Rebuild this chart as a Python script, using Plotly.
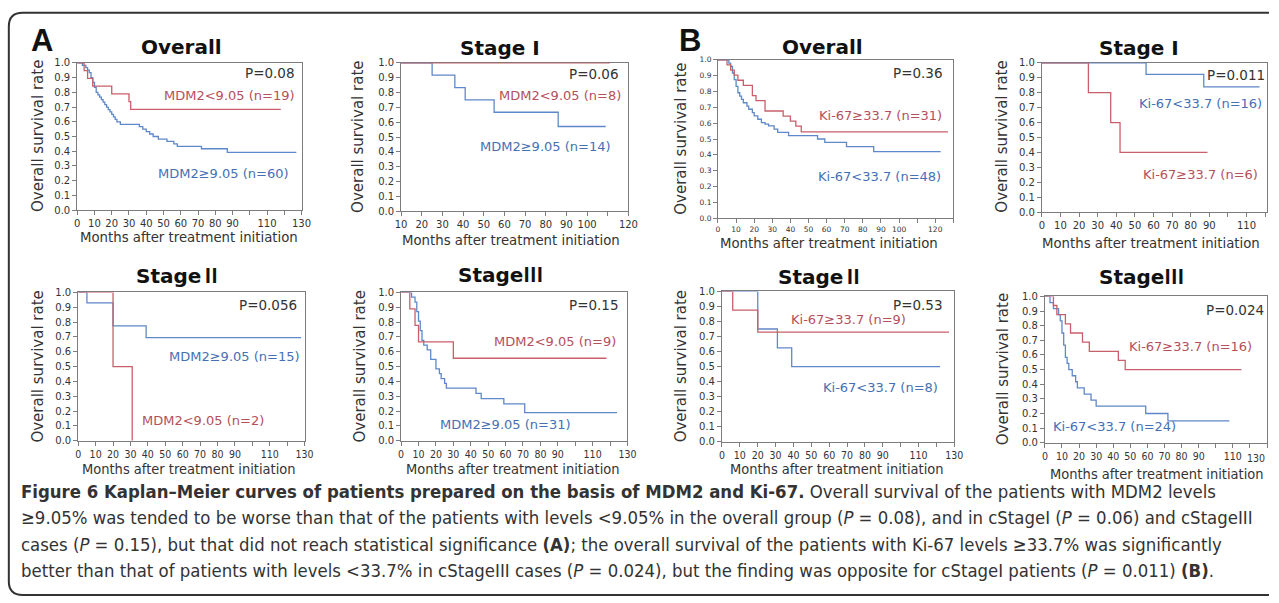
import plotly.graph_objects as go

W, H = 1279, 603

# ---------------- data (months, survival rate) ----------------
# Panel A: MDM2
a_all_low_t = [0, 4, 6, 9, 20, 30, 31, 118]
a_all_low_s = [1.0, 0.947, 0.895, 0.842, 0.789, 0.737, 0.684, 0.684]
a_all_high_t = [0, 3, 5, 6, 7, 8, 9, 10, 11, 12, 13, 14, 15, 16, 17, 18, 19, 20, 21, 22,
                23, 25, 36, 38, 40, 42, 44, 47, 52, 56, 58, 72, 87, 127]
a_all_high_s = [1.0, 0.983, 0.967, 0.95, 0.933, 0.9, 0.867, 0.833, 0.8, 0.783, 0.767, 0.75,
                0.733, 0.717, 0.7, 0.683, 0.667, 0.65, 0.633, 0.617, 0.6, 0.583, 0.567, 0.55,
                0.533, 0.517, 0.5, 0.483, 0.467, 0.45, 0.433, 0.417, 0.393, 0.393]

a_st1_low_t = [0, 111]
a_st1_low_s = [1.0, 1.0]
a_st1_high_t = [0, 25, 36, 41, 55, 86, 109]
a_st1_high_s = [1.0, 0.917, 0.833, 0.75, 0.667, 0.571, 0.571]

a_st2_low_t = [0, 20, 31]
a_st2_low_s = [1.0, 0.5, 0.0]
a_st2_high_t = [0, 5, 20, 39, 128]
a_st2_high_s = [1.0, 0.93, 0.775, 0.695, 0.695]

a_st3_low_t = [0, 5, 8, 10, 30, 118]
a_st3_low_s = [1.0, 0.889, 0.778, 0.667, 0.556, 0.556]
a_st3_high_t = [0, 6, 8, 9, 10, 11, 12, 13, 15, 17, 20, 22, 23, 25, 26, 43, 46, 59, 71, 124]
a_st3_high_s = [1.0, 0.968, 0.935, 0.871, 0.806, 0.742, 0.677, 0.645, 0.613, 0.548, 0.484,
                0.452, 0.419, 0.387, 0.355, 0.32, 0.284, 0.248, 0.19, 0.19]

# Panel B: Ki-67
b_all_high_t = [0, 5, 7, 9, 11, 14, 19, 21, 26, 36, 40, 43, 46, 127]
b_all_high_s = [1.0, 0.968, 0.935, 0.903, 0.871, 0.839, 0.774, 0.742, 0.677, 0.645, 0.613,
                0.581, 0.545, 0.545]
b_all_low_t = [0, 6, 7, 8, 9, 10, 11, 12, 13, 14, 16, 17, 19, 20, 22, 24, 26, 28, 31, 33,
               39, 55, 59, 71, 86, 123]
b_all_low_s = [1.0, 0.979, 0.958, 0.917, 0.875, 0.833, 0.792, 0.771, 0.75, 0.729, 0.708,
               0.688, 0.667, 0.646, 0.625, 0.604, 0.594, 0.583, 0.563, 0.542, 0.521, 0.5,
               0.479, 0.452, 0.42, 0.42]

b_st1_low_t = [0, 56, 87, 117]
b_st1_low_s = [1.0, 0.923, 0.839, 0.839]
b_st1_high_t = [0, 25, 37, 42, 89]
b_st1_high_s = [1.0, 0.8, 0.6, 0.4, 0.4]

b_st2_high_t = [0, 6, 20, 127]
b_st2_high_s = [1.0, 0.875, 0.729, 0.729]
b_st2_low_t = [0, 20, 31, 39, 122]
b_st2_low_s = [1.0, 0.75, 0.625, 0.5, 0.5]

b_st3_high_t = [0, 5, 7, 12, 15, 22, 26, 43, 47, 115]
b_st3_high_s = [1.0, 0.938, 0.875, 0.813, 0.75, 0.688, 0.625, 0.563, 0.5, 0.5]
b_st3_low_t = [0, 3, 5, 8, 9, 10, 11, 12, 13, 14, 16, 18, 19, 23, 27, 30, 59, 72, 108]
b_st3_low_s = [1.0, 0.958, 0.917, 0.875, 0.833, 0.75, 0.667, 0.583, 0.542, 0.5, 0.458,
               0.417, 0.375, 0.333, 0.292, 0.25, 0.2, 0.15, 0.15]

# tick labels
y_tick_vals = [0.0, 0.1, 0.2, 0.3, 0.4, 0.5, 0.6, 0.7, 0.8, 0.9, 1.0]
y_tick_text = ["0.0", "0.1", "0.2", "0.3", "0.4", "0.5", "0.6", "0.7", "0.8", "0.9", "1.0"]
x_ticks_130 = [0, 10, 20, 30, 40, 50, 60, 70, 80, 90, 100, 110, 120, 130]
x_text_130 = ["0", "10", "20", "30", "40", "50", "60", "70", "80", "90", "", "110", "", "130"]
x_text_b_st3 = ["0", "10", "20", "30", "40", "50", "60", "70", "80", "90", "", "110", "", ""]
x_text_b_all = ["0", "10", "20", "30", "40", "50", "60", "70", "80", "90", "100", "", "120", ""]
x_ticks_a_st1 = [10, 20, 30, 40, 50, 60, 70, 80, 90, 100, 110, 120]
x_text_a_st1 = ["10", "20", "30", "40", "50", "60", "70", "80", "90", "100", "", "120"]
x_ticks_b_st1 = [0, 10, 20, 30, 40, 50, 60, 70, 80, 90, 100, 110, 120]
x_text_b_st1 = ["0", "10", "20", "30", "40", "50", "60", "70", "80", "90", "", "110", ""]

# ---------------- styles ----------------
RED = "#c85f6a"
BLUE = "#5f88c8"
RED_TXT = "#b4505c"
BLUE_TXT = "#4670b4"
AXC = "#7c7c7c"
SANS = "DejaVu Sans, Verdana, sans-serif"
COND = "DejaVu Sans Condensed, Liberation Sans Narrow, Arial Narrow, sans-serif"
BOLD = "DejaVu Sans, Verdana, sans-serif"
CJK = "Noto Sans CJK JP"

# the photographed page appears inset/scaled; map reference pixels to page pixels
OX, SX, OY, SY = 6.2, 0.9817, 6.3, 0.9777
XMAX = W - 2


def PX(x):
    return (x - OX) / SX


def PY(y):
    return (y - OY) / SY


# panel: (red_t, red_s, blue_t, blue_s, box(l, r, top, bottom), xrange, xticks, xtext, xfont, xsize, ysize)
panels = [
    (a_all_low_t, a_all_low_s, a_all_high_t, a_all_high_s, (77, 300, 63, 210), [0, 130],
     x_ticks_130, x_text_130, SANS, 10, 10),
    (a_st1_low_t, a_st1_low_s, a_st1_high_t, a_st1_high_s, (399, 625, 63, 211), [10, 120],
     x_ticks_a_st1, x_text_a_st1, SANS, 10, 10),
    (b_all_high_t, b_all_high_s, b_all_low_t, b_all_low_s, (714, 948, 60, 218), [0, 130],
     x_ticks_130, x_text_b_all, SANS, 7.5, 7.5),
    (b_st1_high_t, b_st1_high_s, b_st1_low_t, b_st1_low_s, (1036, 1266, 63, 212), [0, 121],
     x_ticks_b_st1, x_text_b_st1, SANS, 10, 10),
    (a_st2_low_t, a_st2_low_s, a_st2_high_t, a_st2_high_s, (78, 303, 292, 440), [0, 130],
     x_ticks_130, x_text_130, COND, 10.5, 10),
    (a_st3_low_t, a_st3_low_s, a_st3_high_t, a_st3_high_s, (399, 624, 292, 440), [0, 130],
     x_ticks_130, x_text_130, COND, 10.5, 10),
    (b_st2_high_t, b_st2_high_s, b_st2_low_t, b_st2_low_s, (718, 949, 291, 441), [0, 130],
     x_ticks_130, x_text_130, COND, 10.5, 10),
    (b_st3_high_t, b_st3_high_s, b_st3_low_t, b_st3_low_s, (1039, 1264, 296, 442), [0, 130],
     x_ticks_130, x_text_b_st3, COND, 10.5, 10),
]

fig = go.Figure()
layout = dict(width=W, height=H, margin=dict(l=0, r=0, t=0, b=0, pad=0),
              paper_bgcolor="white", plot_bgcolor="white", showlegend=False)

for i, (rt, rs, bt, bs, box, xr, xt, xtt, xfam, xsz, ysz) in enumerate(panels, start=1):
    l, r, t, b = box
    pl, pr, pt, pb = PX(l), min(PX(r), XMAX), PY(t), PY(b)
    xa = "x" if i == 1 else f"x{i}"
    ya = "y" if i == 1 else f"y{i}"
    fig.add_trace(go.Scatter(x=bt, y=bs, mode="lines", xaxis=xa, yaxis=ya,
                             line=dict(shape="hv", color=BLUE, width=1.3), hoverinfo="skip"))
    fig.add_trace(go.Scatter(x=rt, y=rs, mode="lines", xaxis=xa, yaxis=ya,
                             line=dict(shape="hv", color=RED, width=1.3), hoverinfo="skip"))
    layout["xaxis" if i == 1 else f"xaxis{i}"] = dict(
        domain=[pl / W, pr / W], range=xr, anchor=ya, tickmode="array", tickvals=xt,
        ticktext=xtt, ticks="outside", ticklen=4, tickcolor=AXC, showline=True, mirror=True,
        linecolor=AXC, linewidth=1, showgrid=False, zeroline=False, layer="below traces",
        tickfont=dict(family=xfam, size=xsz, color="#333"), fixedrange=True)
    layout["yaxis" if i == 1 else f"yaxis{i}"] = dict(
        domain=[1 - pb / H, 1 - pt / H], range=[0, 1], anchor=xa, tickmode="array",
        tickvals=y_tick_vals, ticktext=y_tick_text, ticks="outside", ticklen=4, tickcolor=AXC,
        showline=True, mirror=True, linecolor=AXC, linewidth=1, showgrid=False, zeroline=False,
        layer="below traces", tickfont=dict(family=SANS, size=ysz, color="#333"), fixedrange=True)

ann = []


def txt(text, x, y, size, color="#222", family=SANS, xanchor="center", angle=0):
    ann.append(dict(text=text, x=PX(x) / W, y=1 - PY(y) / H, xref="paper", yref="paper",
                    xanchor=xanchor, yanchor="middle", showarrow=False, textangle=angle,
                    font=dict(size=size, color=color, family=family)))


# last tick label of the right-most lower panel (kept inside the page)
txt("130", 1260, 457, 10.5, "#333", COND, xanchor="right")

# panel letters and titles
txt("<b>A</b>", 42, 41, 31, "#111", "Liberation Sans, Arial, sans-serif")
txt("<b>B</b>", 686, 41, 31, "#111", "Liberation Sans, Arial, sans-serif")
titles = [("<b>Stage I</b>", 497, 48), ("<b>Stage I</b>", 1133, 48),
          ("<b>Overall</b>", 181, 47), ("<b>Overall</b>", 818, 47)]
for s, x, y in titles:
    txt(s, x, y, 20, "#111", BOLD)
roman = [("Ⅱ", 178, 274), ("Ⅲ", 498, 273), ("Ⅱ", 816, 275), ("Ⅲ", 1135, 275)]
for s, x, y in roman:
    txt(f"<b>Stage</b><span style=\"font-family:'{CJK}'\"><b>{s}</b></span>", x, y, 20, "#111", BOLD)

# axis titles
ytitle = "Overall survival rate"
for x, y in [(38, 136), (356, 137), (677, 139), (996, 137),
             (38, 366), (358, 366), (677, 366), (997, 369)]:
    txt(ytitle, x, y, 15, "#333", SANS, angle=-90)
xtitle = "Months after treatment initiation"
for x, y in [(188, 237), (508, 240), (824, 243), (1144, 243)]:
    txt(xtitle, x, y, 13.3, "#333", SANS)
for x, y in [(188, 468), (510, 468), (832, 468), (1150, 473)]:
    txt(xtitle, x, y, 14.5, "#333", COND)

# in-plot labels (right x, center y)
p_labels = [("P=0.08", 295, 73), ("P=0.06", 618, 74), ("P=0.36", 940, 73), ("P=0.011", 1260, 75),
            ("P=0.056", 297, 305), ("P=0.15", 618, 305), ("P=0.53", 940, 305),
            ("P=0.024", 1259, 310)]
for s, x, y in p_labels:
    txt(s, x, y, 13.5, "#333", SANS, xanchor="right")
labels = [
    ("MDM2&lt;9.05 (n=19)", 295, 96, RED_TXT), ("MDM2≥9.05 (n=60)", 290, 173, BLUE_TXT),
    ("MDM2&lt;9.05 (n=8)", 620, 96, RED_TXT), ("MDM2≥9.05 (n=14)", 610, 146, BLUE_TXT),
    ("Ki-67≥33.7 (n=31)", 939, 116, RED_TXT), ("Ki-67&lt;33.7 (n=48)", 938, 176, BLUE_TXT),
    ("Ki-67&lt;33.7 (n=16)", 1257, 104, BLUE_TXT), ("Ki-67≥33.7 (n=6)", 1253, 174, RED_TXT),
    ("MDM2≥9.05 (n=15)", 300, 356, BLUE_TXT), ("MDM2&lt;9.05 (n=2)", 265, 420, RED_TXT),
    ("MDM2&lt;9.05 (n=9)", 615, 341, RED_TXT), ("MDM2≥9.05 (n=31)", 570, 424, BLUE_TXT),
    ("Ki-67≥33.7 (n=9)", 903, 319, RED_TXT), ("Ki-67&lt;33.7 (n=8)", 935, 387, BLUE_TXT),
    ("Ki-67≥33.7 (n=16)", 1247, 346, RED_TXT),
]
for s, x, y, c in labels:
    txt(s, x, y, 13, c, SANS, xanchor="right")
txt("Ki-67&lt;33.7 (n=24)", 1045, 426, 13, BLUE_TXT, SANS, xanchor="left")

# caption
cap = [
    "<b>Figure 6 Kaplan–Meier curves of patients prepared on the basis of MDM2 and Ki-67.</b> "
    "Overall survival of the patients with MDM2 levels",
    "≥9.05% was tended to be worse than that of the patients with levels &lt;9.05% in the overall "
    "group (<i>P</i> = 0.08), and in cStageI (<i>P</i> = 0.06) and cStageIII",
    "cases (<i>P</i> = 0.15), but that did not reach statistical significance <b>(A)</b>; the overall "
    "survival of the patients with Ki-67 levels ≥33.7% was significantly",
    "better than that of patients with levels &lt;33.7% in cStageIII cases (<i>P</i> = 0.024), but the "
    "finding was opposite for cStageI patients (<i>P</i> = 0.011) <b>(B)</b>.",
]
for k, line in enumerate(cap):
    txt(line, 19, 491 + 26 * k, 18.4, "#333", COND, xanchor="left")

layout["annotations"] = ann

# rounded frame (left, top, bottom)
fx0, fy0, fy1, rad = PX(9), PY(13), min(PY(596), H - 2), 14


def P(x, y):
    return f"{x / W:.5f},{1 - y / H:.5f}"


frame = (f"M {P(W, fy0)} L {P(fx0 + rad, fy0)} Q {P(fx0, fy0)} {P(fx0, fy0 + rad)} "
         f"L {P(fx0, fy1 - rad)} Q {P(fx0, fy1)} {P(fx0 + rad, fy1)} L {P(W, fy1)}")
layout["shapes"] = [dict(type="path", path=frame, xref="paper", yref="paper",
                         line=dict(color="#333", width=2))]

fig.update_layout(**layout)
fig.write_html("out.html", config={"displayModeBar": False},
               post_script="document.body.style.margin='0';"
                           "document.documentElement.style.overflow='hidden';"
                           "document.body.style.overflow='hidden';")
